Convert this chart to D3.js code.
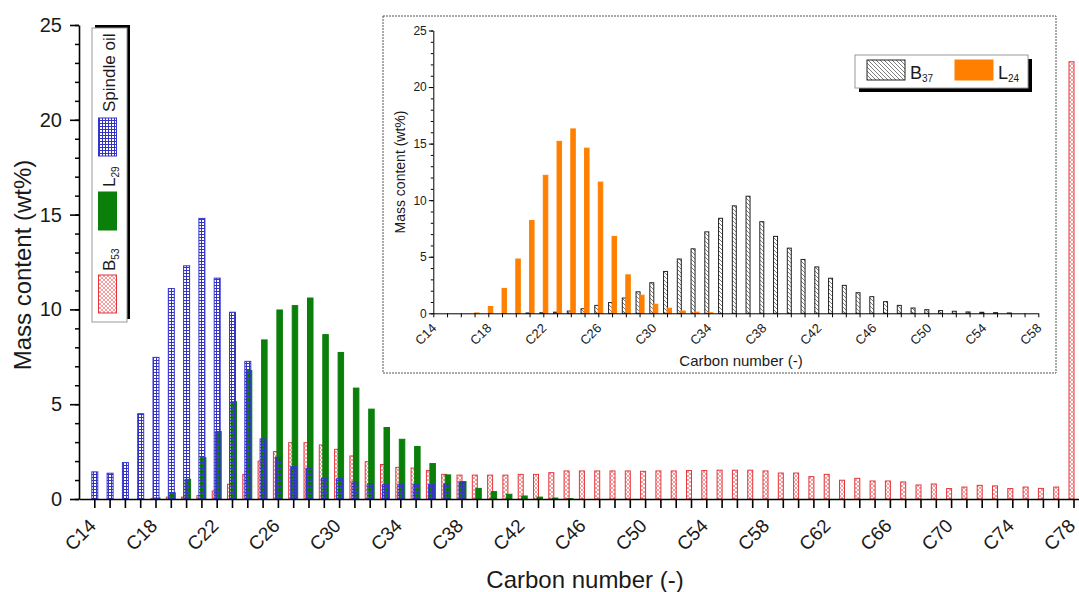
<!DOCTYPE html>
<html>
<head>
<meta charset="utf-8">
<script src="https://cdn.jsdelivr.net/npm/d3@7"></script>
<style>
  body { margin: 0; background: #fff; }
  text { font-family: "Liberation Sans", Arial, sans-serif; fill: #1a1a1a; }
</style>
</head>
<body>
<script>
//size of the picture
const width = 1079;
const height = 592;

//carbon numbers of the main chart, C14 .. C78
const carbons = d3.range(14, 79);
const xTickLabels = ["C14", "C18", "C22", "C26", "C30", "C34", "C38", "C42", "C46",
  "C50", "C54", "C58", "C62", "C66", "C70", "C74", "C78"];
const yTicks = [0, 5, 10, 15, 20, 25];

//mass content (wt%) for each carbon number, starting at C14
const spindleOil = [
  1.43, 1.36, 1.92, 4.5, 7.47, 11.1, 12.3, 14.8, 11.65, 9.85,
  7.26, 3.17, 2.2, 1.7, 1.62, 1.09, 1.07, 0.91, 0.8, 0.76,
  0.78, 0.78, 0.76, 0.8, 0.9, 0, 0, 0, 0, 0,
  0, 0, 0, 0, 0, 0, 0, 0, 0, 0,
  0, 0, 0, 0, 0, 0, 0, 0, 0, 0,
  0, 0, 0, 0, 0, 0, 0, 0, 0, 0,
  0, 0, 0, 0, 0];
const l29 = [
  0, 0, 0, 0, 0.05, 0.33, 1.04, 2.18, 3.56, 5.13,
  6.77, 8.39, 9.97, 10.2, 10.6, 8.67, 7.73, 5.85, 4.74, 3.77,
  3.15, 2.77, 1.87, 1.27, 0.92, 0.56, 0.39, 0.25, 0.16, 0.1,
  0.05, 0.02, 0, 0, 0, 0, 0, 0, 0, 0,
  0, 0, 0, 0, 0, 0, 0, 0, 0, 0,
  0, 0, 0, 0, 0, 0, 0, 0, 0, 0,
  0, 0, 0, 0, 0];
const b53 = [
  0, 0, 0, 0, 0.03, 0.1, 0.1, 0.18, 0.42, 0.78,
  1.3, 2.0, 2.5, 2.97, 2.97, 2.85, 2.62, 2.27, 1.97, 1.82,
  1.67, 1.63, 1.5, 1.3, 1.26, 1.26, 1.26, 1.26, 1.3, 1.3,
  1.39, 1.48, 1.48, 1.48, 1.48, 1.48, 1.46, 1.48, 1.48, 1.5,
  1.5, 1.52, 1.52, 1.52, 1.48, 1.37, 1.37, 1.18, 1.3, 0.99,
  1.09, 0.95, 0.95, 0.9, 0.74, 0.79, 0.55, 0.63, 0.72, 0.69,
  0.55, 0.63, 0.56, 0.63, 23.06];

//inset: carbon numbers C14 .. C58
const insetCarbons = d3.range(14, 59);
const insetTickLabels = ["C14", "C18", "C22", "C26", "C30", "C34", "C38", "C42",
  "C46", "C50", "C54", "C58"];
const b37 = [
  0, 0, 0, 0, 0, 0, 0, 0.03, 0.05, 0.1,
  0.2, 0.4, 0.7, 0.95, 1.35, 1.9, 2.7, 3.7, 4.8, 5.7,
  7.2, 8.4, 9.5, 10.35, 8.1, 6.8, 5.76, 4.76, 4.1, 3.1,
  2.47, 1.82, 1.47, 1.03, 0.7, 0.47, 0.32, 0.24, 0.18, 0.12,
  0.09, 0.06, 0.03, 0, 0];
const l24 = [
  0, 0, 0, 0.03, 0.6, 2.2, 4.8, 8.2, 12.2, 15.2,
  16.3, 14.6, 11.6, 6.8, 3.4, 1.6, 0.8, 0.45, 0.2, 0.1,
  0.05, 0, 0, 0, 0, 0, 0, 0, 0, 0,
  0, 0, 0, 0, 0, 0, 0, 0, 0, 0,
  0, 0, 0, 0, 0];

// sets up canvas
let c = d3.select("body").append("svg")
  .attr("width", width)
  .attr("height", height);

// fill patterns for the hatched bars
let defs = c.append("defs");

let gridBlue = defs.append("pattern")
  .attr("id", "gridBlue")
  .attr("patternUnits", "userSpaceOnUse")
  .attr("width", 3)
  .attr("height", 3);
gridBlue.append("path")
  .attr("d", "M0,0.5H3M0.5,0V3")
  .attr("stroke", "#3434bc")
  .attr("stroke-width", 1);

let crossRed = defs.append("pattern")
  .attr("id", "crossRed")
  .attr("patternUnits", "userSpaceOnUse")
  .attr("width", 4)
  .attr("height", 4);
crossRed.append("path")
  .attr("d", "M0,0L4,4M4,0L0,4")
  .attr("stroke", "#f07272")
  .attr("stroke-width", 0.7);

let hatchGray = defs.append("pattern")
  .attr("id", "hatchGray")
  .attr("patternUnits", "userSpaceOnUse")
  .attr("width", 4)
  .attr("height", 4);
hatchGray.append("path")
  .attr("d", "M0,0L4,4M-1,3L1,5M3,-1L5,1")
  .attr("stroke", "#444")
  .attr("stroke-width", 0.7);

// scales of the main chart
let x = d3.scaleLinear().domain([13, 79]).range([79, 1088.8]);
let y = d3.scaleLinear().domain([0, 25]).range([499, 25]);

// draws one bar series, offset from the tick
function bars(g, xs, ys, cats, vals, off, w, fill, stroke) {
  g.append("g")
    .selectAll("rect")
    .data(cats.map((cn, i) => ({ c: cn, v: vals[i] })).filter(d => d.v > 0))
    .join("rect")
    .attr("x", d => xs(d.c) + off)
    .attr("width", w)
    .attr("y", d => ys(d.v))
    .attr("height", d => ys(0) - ys(d.v))
    .attr("fill", fill)
    .attr("stroke", stroke)
    .attr("stroke-width", 1);
}

// red behind, then green, blue grid on top
bars(c, x, y, carbons, b53, -4.5, 5, "url(#crossRed)", "#e2363c");
bars(c, x, y, carbons, l29, -1, 5.5, "#0a7f0a", "#0a7f0a");
bars(c, x, y, carbons, spindleOil, -2.5, 6, "url(#gridBlue)", "#3535d2");

// y axis with minor ticks
c.append("g")
  .attr("transform", "translate(79,0)")
  .call(d3.axisLeft(y).tickValues(d3.range(0, 26, 1)).tickSize(4).tickFormat(""))
  .call(g => g.select(".domain").remove())
  .selectAll("line").attr("stroke-width", 1.5);

let yAxis = c.append("g")
  .attr("transform", "translate(79,0)")
  .call(d3.axisLeft(y).tickValues(yTicks).tickSize(9).tickSizeOuter(0).tickPadding(8));
yAxis.selectAll("text")
  .attr("font-size", 20)
  .attr("font-family", "Liberation Sans, Arial, sans-serif")
  .attr("fill", "#1a1a1a");
yAxis.selectAll("line, path").attr("stroke-width", 1.6);

// x axis, a tick on every carbon number
let xAxis = c.append("g")
  .attr("transform", "translate(0,499)")
  .call(d3.axisBottom(x).tickValues(carbons).tickSize(9).tickSizeOuter(0).tickFormat(""));
xAxis.selectAll("line, path").attr("stroke-width", 1.6);

c.append("g")
  .selectAll("text")
  .data(xTickLabels)
  .join("text")
  .attr("transform", d => "translate(" + (x(+d.slice(1)) + 3) + ",527) rotate(-45)")
  .attr("text-anchor", "end")
  .attr("font-size", 19)
  .text(d => d);

// axis titles
c.append("text")
  .attr("x", 585)
  .attr("y", 588)
  .attr("text-anchor", "middle")
  .attr("font-size", 24)
  .text("Carbon number (-)");

c.append("text")
  .attr("transform", "translate(31,265) rotate(-90)")
  .attr("text-anchor", "middle")
  .attr("font-size", 24)
  .text("Mass content (wt%)");

// legend of the main chart, turned on its side
c.append("rect")
  .attr("x", 95).attr("y", 25)
  .attr("width", 35).attr("height", 294)
  .attr("fill", "black");
c.append("rect")
  .attr("x", 92).attr("y", 28)
  .attr("width", 35).attr("height", 294)
  .attr("fill", "white")
  .attr("stroke", "#9a9a9a")
  .attr("stroke-width", 1);

const legendMain = [
  { name: "B", sub: "53", fill: "url(#crossRed)", stroke: "#e2363c" },
  { name: "L", sub: "29", fill: "#0a7f0a", stroke: "#0a7f0a" },
  { name: "Spindle oil", sub: "", fill: "url(#gridBlue)", stroke: "#3535d2" }
];
// bottom of each swatch and start of each label
const swatchBottom = [313, 230, 156];
const labelStart = [271, 187, 112];

legendMain.forEach((d, i) => {
  c.append("rect")
    .attr("x", 98.5).attr("y", swatchBottom[i] - 38)
    .attr("width", 18).attr("height", 38)
    .attr("fill", d.fill)
    .attr("stroke", d.stroke);
  let t = c.append("text")
    .attr("transform", "translate(115," + labelStart[i] + ") rotate(-90)")
    .attr("font-size", 17)
    .text(d.name);
  if (d.sub) {
    t.append("tspan").attr("font-size", 10).attr("dy", 4).text(d.sub);
  }
});

// ---------- the inset ----------
c.append("rect")
  .attr("x", 383).attr("y", 16)
  .attr("width", 673).attr("height", 357)
  .attr("fill", "white")
  .attr("stroke", "#555")
  .attr("stroke-width", 1)
  .attr("stroke-dasharray", "2,1");

let xi = d3.scaleLinear().domain([14, 58]).range([433.3, 1038.3]);
let yi = d3.scaleLinear().domain([0, 25]).range([313.3, 30.5]);

bars(c, xi, yi, insetCarbons, b37, -3.5, 4, "url(#hatchGray)", "#222");
bars(c, xi, yi, insetCarbons, l24, 0, 4.5, "#ff8000", "#ff8000");

c.append("g")
  .attr("transform", "translate(433.3,0)")
  .call(d3.axisLeft(yi).tickValues(d3.range(0, 26, 1)).tickSize(2.5).tickFormat(""))
  .call(g => g.select(".domain").remove());

let yAxisIn = c.append("g")
  .attr("transform", "translate(433.3,0)")
  .call(d3.axisLeft(yi).tickValues(yTicks).tickSize(4.5).tickSizeOuter(0).tickPadding(2));
yAxisIn.selectAll("text")
  .attr("font-size", 12)
  .attr("font-family", "Liberation Sans, Arial, sans-serif")
  .attr("fill", "#1a1a1a");

c.append("g")
  .attr("transform", "translate(0,313.3)")
  .call(d3.axisBottom(xi).tickValues(insetCarbons).tickSize(4).tickSizeOuter(0).tickFormat(""));

c.append("g")
  .selectAll("text")
  .data(insetTickLabels)
  .join("text")
  .attr("transform", d => "translate(" + (xi(+d.slice(1)) + 4) + ",329) rotate(-45)")
  .attr("text-anchor", "end")
  .attr("font-size", 13)
  .text(d => d);

c.append("text")
  .attr("x", 741)
  .attr("y", 366)
  .attr("text-anchor", "middle")
  .attr("font-size", 15)
  .text("Carbon number (-)");

c.append("text")
  .attr("transform", "translate(405,172) rotate(-90)")
  .attr("text-anchor", "middle")
  .attr("font-size", 14)
  .text("Mass content (wt%)");

// legend of the inset
c.append("rect")
  .attr("x", 859).attr("y", 59)
  .attr("width", 173).attr("height", 33)
  .attr("fill", "black");
c.append("rect")
  .attr("x", 855).attr("y", 55)
  .attr("width", 173).attr("height", 33)
  .attr("fill", "white")
  .attr("stroke", "#9a9a9a");

const legendInset = [
  { name: "B", sub: "37", fill: "url(#hatchGray)", stroke: "#222" },
  { name: "L", sub: "24", fill: "#ff8000", stroke: "#ff8000" }
];
legendInset.forEach((d, i) => {
  let x0 = 867 + i * 88;
  c.append("rect")
    .attr("x", x0).attr("y", 60)
    .attr("width", 38).attr("height", 20)
    .attr("fill", d.fill)
    .attr("stroke", d.stroke);
  let t = c.append("text")
    .attr("x", x0 + 43)
    .attr("y", 79)
    .attr("font-size", 18)
    .text(d.name);
  t.append("tspan").attr("font-size", 10).attr("dy", 3).text(d.sub);
});
</script>
</body>
</html>
